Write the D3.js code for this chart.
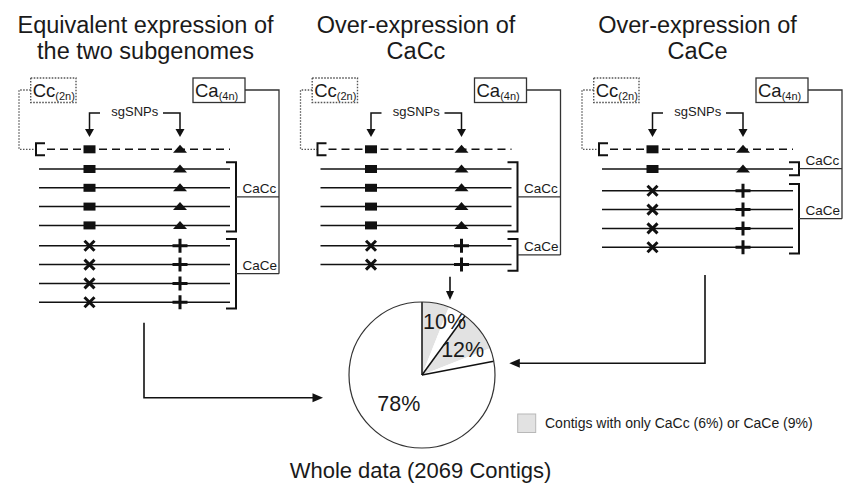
<!DOCTYPE html>
<html>
<head>
<meta charset="utf-8">
<script src="https://cdn.jsdelivr.net/npm/d3@7"></script>
<style>
  body { margin: 0; background: #fff; }
  svg { display: block; }
  text { font-family: "Liberation Sans", Arial, Helvetica, sans-serif; fill: #1a1a1a; }
</style>
</head>
<body>
<svg id="fig" width="846" height="483"></svg>
<script>
// ---- panel content -------------------------------------------------------
const panelTitles = [
  ["Equivalent expression of", "the two subgenomes"],
  ["Over-expression of", "CaCc"],
  ["Over-expression of", "CaCe"]
];
// reads carrying CaCc-type and CaCe-type alleles in each scenario
const caccReads = [4, 4, 1];
const caceReads = [4, 2, 4];
const groupLabels = ["CaCc", "CaCe"];
const genomeLabels = ["Cc", "Ca"];
const ploidyLabels = ["(2n)", "(4n)"];
const snpLabel = "sgSNPs";

// ---- share of the whole data set (%) --------------------------------------
const categories = ["Over-expression of CaCc", "Over-expression of CaCe", "Equivalent expression"];
const categoryShares = [10, 12, 78];
const onlyShares = [6, 9];          // contigs with only CaCc / only CaCe reads
const shareLabels = ["10%", "12%", "78%"];
const legendLabel = "Contigs with only CaCc (6%) or CaCe (9%)";
const pieTitle = "Whole data (2069 Contigs)";

// ---- drawing --------------------------------------------------------------
const svg = d3.select("#fig");
const INK = "#111";
const GREY = "#e2e2e2";

// horizontal offset of each scenario panel
const panelX = d3.scaleLinear().domain([0, 2]).range([0, 563]);

// geometry of one panel (in panel-local x)
const G = {
  lineX0: 39, lineX1: 230, dashX0: 47,
  colA: 89.5, colB: 180,
  brL: 36, brR: 236, link: 279, dotX: 19,
  ccBox: [30.7, 76], caBox: [193, 245],
  boxY: 78, boxH: 24.5, boxMid: 90
};
const ccY = 149.3;
const rowY = d3.scaleLinear().domain([0, 1]).range([169, 187.8]);
const groupGap = 1.6;

function arrowHead(g, x, y, dir, len, half) {
  // dir: "down" | "right" | "left"
  let pts;
  if (dir === "down") pts = [[x, y], [x - half, y - len], [x + half, y - len]];
  else if (dir === "right") pts = [[x, y], [x - len, y - half], [x - len, y + half]];
  else pts = [[x, y], [x + len, y - half], [x + len, y + half]];
  g.append("polygon").attr("points", pts.map(p => p.join(",")).join(" ")).attr("fill", INK);
}

function marker(g, kind, x, y) {
  if (kind === "square") {
    g.append("rect").attr("x", x - 6).attr("y", y - 4).attr("width", 12).attr("height", 8).attr("fill", INK);
  } else if (kind === "triangle") {
    g.append("path").attr("d", `M${x - 7},${y + 3.5}L${x + 7},${y + 3.5}L${x},${y - 4.5}Z`).attr("fill", INK);
  } else if (kind === "cross") {
    g.append("path").attr("d", `M${x - 5},${y - 5}L${x + 5},${y + 5}M${x - 5},${y + 5}L${x + 5},${y - 5}`)
      .attr("stroke", INK).attr("stroke-width", 3).attr("fill", "none");
  } else {
    g.append("path").attr("d", `M${x - 7.5},${y}H${x + 7.5}M${x},${y - 7}V${y + 7}`)
      .attr("stroke", INK).attr("stroke-width", 3).attr("fill", "none");
  }
}

panelTitles.forEach((title, p) => {
  const g = svg.append("g").attr("transform", `translate(${panelX(p)},0)`);
  const centre = (G.lineX0 + G.lineX1) / 2 + (p === 0 ? 11 : 0);

  // heading
  title.forEach((t, k) => {
    g.append("text").attr("x", centre).attr("y", 33 + k * 26)
      .attr("text-anchor", "middle").attr("font-size", 23.5).text(t);
  });

  // genome boxes
  [G.ccBox, G.caBox].forEach((b, k) => {
    g.append("rect").attr("x", b[0]).attr("y", G.boxY).attr("width", b[1] - b[0]).attr("height", G.boxH)
      .attr("fill", "#fff").attr("stroke", k === 0 ? "#555" : "#333")
      .attr("stroke-width", k === 0 ? 1.4 : 1.3)
      .attr("stroke-dasharray", k === 0 ? "1.6,1.4" : null);
    const t = g.append("text").attr("x", b[0] + 2).attr("y", G.boxY + 18.5).attr("font-size", 18.5);
    t.append("tspan").text(genomeLabels[k]);
    t.append("tspan").attr("font-size", 11).attr("dy", 3).text(ploidyLabels[k]);
  });

  // reads of the subgenome groups
  const rows = [];
  for (let i = 0; i < caccReads[p]; i++) rows.push({ group: 0 });
  for (let i = 0; i < caceReads[p]; i++) rows.push({ group: 1 });
  rows.forEach((r, i) => { r.y = rowY(i) + (r.group === 1 ? groupGap : 0) + (p === 2 && r.group === 1 ? 1.4 : 0); });

  // Cc diploid read (dashed) and its link to the Cc box
  g.append("path").attr("d", `M${G.ccBox[0]},${G.boxMid}H${G.dotX}V${ccY}H${G.brL}`)
    .attr("fill", "none").attr("stroke", "#555").attr("stroke-width", 1.3).attr("stroke-dasharray", "1.5,1.5");
  g.append("path").attr("d", `M${G.brL + 9},${ccY - 6}H${G.brL}V${ccY + 6}H${G.brL + 9}`)
    .attr("fill", "none").attr("stroke", INK).attr("stroke-width", 2);
  g.append("line").attr("x1", G.dashX0).attr("x2", G.lineX1).attr("y1", ccY).attr("y2", ccY)
    .attr("stroke", INK).attr("stroke-width", 1.5).attr("stroke-dasharray", "8,5");
  marker(g, "square", G.colA, ccY);
  marker(g, "triangle", G.colB, ccY);

  rows.forEach(r => {
    g.append("line").attr("x1", G.lineX0).attr("x2", G.lineX1).attr("y1", r.y).attr("y2", r.y)
      .attr("stroke", INK).attr("stroke-width", 1.5);
    marker(g, r.group === 0 ? "square" : "cross", G.colA, r.y);
    marker(g, r.group === 0 ? "triangle" : "plus", G.colB, r.y);
  });

  // right brackets with labels, linked to the Ca box
  let lastMid = 0;
  [0, 1].forEach(k => {
    const ys = rows.filter(r => r.group === k).map(r => r.y);
    if (!ys.length) return;
    const top = d3.min(ys) - 6.8, bot = d3.max(ys) + 6.2, mid = (top + bot) / 2;
    g.append("path").attr("d", `M${G.brR - 10},${top}H${G.brR}V${bot}H${G.brR - 10}`)
      .attr("fill", "none").attr("stroke", INK).attr("stroke-width", 2);
    g.append("line").attr("x1", G.brR).attr("x2", G.link).attr("y1", mid).attr("y2", mid)
      .attr("stroke", "#333").attr("stroke-width", 1.2);
    g.append("text").attr("x", G.brR + 6.5).attr("y", mid - 4).attr("font-size", 13.5).text(groupLabels[k]);
    lastMid = mid;
  });
  g.append("path").attr("d", `M${G.caBox[1]},${G.boxMid}H${G.link}V${lastMid}`)
    .attr("fill", "none").attr("stroke", "#333").attr("stroke-width", 1.3);

  // sgSNP pointers
  const sx = (G.colA + G.colB) / 2;
  g.append("text").attr("x", sx).attr("y", 116).attr("text-anchor", "middle").attr("font-size", 13).text(snpLabel);
  g.append("path").attr("d", `M${G.colA + 10.5},113H${G.colA}V130`).attr("fill", "none").attr("stroke", INK).attr("stroke-width", 1.5);
  g.append("path").attr("d", `M${G.colB - 17},113H${G.colB}V130`).attr("fill", "none").attr("stroke", INK).attr("stroke-width", 1.5);
  arrowHead(g, G.colA, 137, "down", 8, 4.5);
  arrowHead(g, G.colB, 137, "down", 8, 4.5);
});

// ---- pie of the whole data set -------------------------------------------
const cx = 422, cy = 375, R = 73;
const pg = svg.append("g").attr("transform", `translate(${cx},${cy})`);
const pie = d3.pie().sort(null).value(d => d);
const mainArcs = pie(categoryShares);

// sub-slices: only-one-subgenome part (grey) followed by the rest of the category
const subValues = [
  onlyShares[0], categoryShares[0] - onlyShares[0],
  onlyShares[1], categoryShares[1] - onlyShares[1],
  categoryShares[2]
];
const subFill = [GREY, "#fff", GREY, "#fff", "#fff"];
const arc = d3.arc().innerRadius(0).outerRadius(R);
pg.selectAll("path.sub").data(pie(subValues)).join("path").attr("class", "sub")
  .attr("d", arc).attr("fill", (d, i) => subFill[i]);

// slice boundaries
pg.selectAll("line.edge").data(mainArcs).join("line").attr("class", "edge")
  .attr("x1", 0).attr("y1", 0)
  .attr("x2", d => R * Math.sin(d.startAngle)).attr("y2", d => -R * Math.cos(d.startAngle))
  .attr("stroke", INK).attr("stroke-width", 1.5);
pg.append("circle").attr("r", R).attr("fill", "none").attr("stroke", "#333").attr("stroke-width", 1.2);

const labelRadius = [0.78, 0.66, 0.5];
const labelNudge = [5, 0, 0];   // keep the narrow slice's label clear of the top edge
pg.selectAll("text.share").data(mainArcs).join("text").attr("class", "share")
  .attr("transform", (d, i) => {
    const c = d3.arc().innerRadius(R * labelRadius[i]).outerRadius(R * labelRadius[i]).centroid(d);
    return `translate(${c[0] + labelNudge[i]},${c[1]})`;
  })
  .attr("text-anchor", "middle").attr("dy", "0.36em").attr("font-size", 21.5)
  .text((d, i) => shareLabels[i]);

svg.append("text").attr("x", cx - 1.5).attr("y", 478).attr("text-anchor", "middle")
  .attr("font-size", 22).text(pieTitle);

// arrows from each scenario into the pie
const ag = svg.append("g").attr("fill", "none").attr("stroke", INK).attr("stroke-width", 1.6);
const leftY = cy + 22.7, leftTip = cx - R - 26;
ag.append("path").attr("d", `M144,322.7V${leftY}H${leftTip - 9}`);
arrowHead(svg, leftTip, leftY, "right", 10.5, 4.5);
const midX = cx + 28, midTip = cy - R - 2;
ag.append("path").attr("d", `M${midX},276.7V${midTip - 8}`);
arrowHead(svg, midX, midTip, "down", 9, 4);
const rightY = cy - 11.7, rightTip = cx + R + 14.3;
ag.append("path").attr("d", `M705,275V${rightY}H${rightTip + 9}`);
arrowHead(svg, rightTip, rightY, "left", 10.5, 4.5);

// legend
svg.append("rect").attr("x", 517.7).attr("y", 414).attr("width", 18).attr("height", 18.5)
  .attr("fill", GREY).attr("stroke", "#b8b8b8").attr("stroke-width", 1);
svg.append("text").attr("x", 545).attr("y", 428).attr("font-size", 14).text(legendLabel);
</script>
</body>
</html>
